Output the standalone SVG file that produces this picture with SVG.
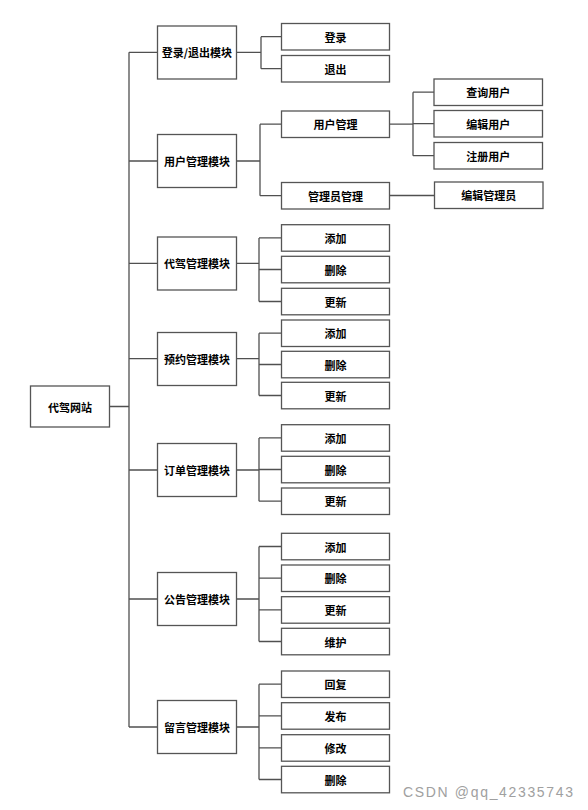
<svg xmlns="http://www.w3.org/2000/svg" width="588" height="810" viewBox="0 0 588 810">
<style>
rect.n{fill:#ffffff;stroke:#555555;stroke-width:1.3}
text.t{font-family:"Noto Sans CJK SC","Liberation Sans",sans-serif;font-size:11px;font-weight:bold;fill:#000000;text-anchor:middle;dominant-baseline:central}
#connectors path{fill:none;stroke:#505050;stroke-width:1.3}
text.wm{font-family:"Liberation Sans",sans-serif;font-size:14px;fill:#a0a0a0;text-anchor:end}
</style>
<rect width="588" height="810" fill="#ffffff"/>
<g id="connectors">
<path d="M109.5 406.5H129M129 52.3V727"/>
<path d="M129 52.3H157.5M129 161H157.5M129 263.3H157.5M129 358.7H157.5M129 470H157.5M129 599H157.5M129 727H157.5"/>
<path d="M236.5 52.3H261M261 36.7V68.7M261 36.7H281.5M261 68.7H281.5"/>
<path d="M236.5 161H260M260 124.2V195.7M260 124.2H281.5M260 195.7H281.5"/>
<path d="M389.5 124.2H413M413 92.2V155.7M413 92.2H434M413 123.7H434M413 155.7H434"/>
<path d="M389.5 195.5H434.5"/>
<path d="M236.5 263.3H259M259 237.9V301.5M259 237.9H281.5M259 269.5H281.5M259 301.5H281.5"/>
<path d="M236.5 358.7H259M259 333.2V395.5M259 333.2H281.5M259 364.5H281.5M259 395.5H281.5"/>
<path d="M236.5 470H259M259 437.9V501.2M259 437.9H281.5M259 469.5H281.5M259 501.2H281.5"/>
<path d="M236.5 599H259M259 546.5V641.5M259 546.5H281.5M259 578.2H281.5M259 609.9H281.5M259 641.5H281.5"/>
<path d="M236.5 727H259M259 684.2V779.5M259 684.2H281.5M259 715.9H281.5M259 747.9H281.5M259 779.5H281.5"/>
</g>
<g id="root"><rect class="n" x="30.5" y="386" width="79" height="41"/><text class="t" x="70" y="406.5">代驾网站</text></g>
<g id="m1"><rect class="n" x="157.5" y="26" width="79" height="53"/><text class="t" x="197" y="52.3">登录/退出模块</text></g>
<g id="m2"><rect class="n" x="157.5" y="134.5" width="79" height="53"/><text class="t" x="197" y="161">用户管理模块</text></g>
<g id="m3"><rect class="n" x="157.5" y="237" width="79" height="53"/><text class="t" x="197" y="263.3">代驾管理模块</text></g>
<g id="m4"><rect class="n" x="157.5" y="332.5" width="79" height="53"/><text class="t" x="197" y="358.7">预约管理模块</text></g>
<g id="m5"><rect class="n" x="157.5" y="443.5" width="79" height="53"/><text class="t" x="197" y="470">订单管理模块</text></g>
<g id="m6"><rect class="n" x="157.5" y="572.5" width="79" height="53"/><text class="t" x="197" y="599">公告管理模块</text></g>
<g id="m7"><rect class="n" x="157.5" y="700.5" width="79" height="53"/><text class="t" x="197" y="727">留言管理模块</text></g>
<g id="c1a"><rect class="n" x="281.5" y="23.5" width="108" height="26.5"/><text class="t" x="335.5" y="36.7">登录</text></g>
<g id="c1b"><rect class="n" x="281.5" y="55.5" width="108" height="26.5"/><text class="t" x="335.5" y="68.7">退出</text></g>
<g id="c2a"><rect class="n" x="281.5" y="111" width="108" height="26.5"/><text class="t" x="335.5" y="124.2">用户管理</text></g>
<g id="c2b"><rect class="n" x="281.5" y="182.5" width="108" height="26.5"/><text class="t" x="335.5" y="195.7">管理员管理</text></g>
<g id="g1"><rect class="n" x="434" y="79" width="108.5" height="26.5"/><text class="t" x="488.2" y="92.2">查询用户</text></g>
<g id="g2"><rect class="n" x="434" y="110.5" width="108.5" height="26.5"/><text class="t" x="488.2" y="123.7">编辑用户</text></g>
<g id="g3"><rect class="n" x="434" y="142.5" width="108.5" height="26.5"/><text class="t" x="488.2" y="155.7">注册用户</text></g>
<g id="g4"><rect class="n" x="434.5" y="182" width="108.5" height="26.5"/><text class="t" x="488.7" y="195.2">编辑管理员</text></g>
<g id="c3a"><rect class="n" x="281.5" y="224.7" width="108" height="26.5"/><text class="t" x="335.5" y="237.9">添加</text></g>
<g id="c3b"><rect class="n" x="281.5" y="256.3" width="108" height="26.5"/><text class="t" x="335.5" y="269.5">删除</text></g>
<g id="c3c"><rect class="n" x="281.5" y="288.3" width="108" height="26.5"/><text class="t" x="335.5" y="301.5">更新</text></g>
<g id="c4a"><rect class="n" x="281.5" y="320" width="108" height="26.5"/><text class="t" x="335.5" y="333.2">添加</text></g>
<g id="c4b"><rect class="n" x="281.5" y="351.3" width="108" height="26.5"/><text class="t" x="335.5" y="364.5">删除</text></g>
<g id="c4c"><rect class="n" x="281.5" y="382.3" width="108" height="26.5"/><text class="t" x="335.5" y="395.5">更新</text></g>
<g id="c5a"><rect class="n" x="281.5" y="424.7" width="108" height="26.5"/><text class="t" x="335.5" y="437.9">添加</text></g>
<g id="c5b"><rect class="n" x="281.5" y="456.3" width="108" height="26.5"/><text class="t" x="335.5" y="469.5">删除</text></g>
<g id="c5c"><rect class="n" x="281.5" y="488" width="108" height="26.5"/><text class="t" x="335.5" y="501.2">更新</text></g>
<g id="c6a"><rect class="n" x="281.5" y="533.3" width="108" height="26.5"/><text class="t" x="335.5" y="546.5">添加</text></g>
<g id="c6b"><rect class="n" x="281.5" y="565" width="108" height="26.5"/><text class="t" x="335.5" y="578.2">删除</text></g>
<g id="c6c"><rect class="n" x="281.5" y="596.7" width="108" height="26.5"/><text class="t" x="335.5" y="609.9">更新</text></g>
<g id="c6d"><rect class="n" x="281.5" y="628.3" width="108" height="26.5"/><text class="t" x="335.5" y="641.5">维护</text></g>
<g id="c7a"><rect class="n" x="281.5" y="671" width="108" height="26.5"/><text class="t" x="335.5" y="684.2">回复</text></g>
<g id="c7b"><rect class="n" x="281.5" y="702.7" width="108" height="26.5"/><text class="t" x="335.5" y="715.9">发布</text></g>
<g id="c7c"><rect class="n" x="281.5" y="734.7" width="108" height="26.5"/><text class="t" x="335.5" y="747.9">修改</text></g>
<g id="c7d"><rect class="n" x="281.5" y="766.3" width="108" height="26.5"/><text class="t" x="335.5" y="779.5">删除</text></g>
<text class="wm" x="573" y="797" textLength="170" lengthAdjust="spacing">CSDN @qq_42335743</text>
</svg>
